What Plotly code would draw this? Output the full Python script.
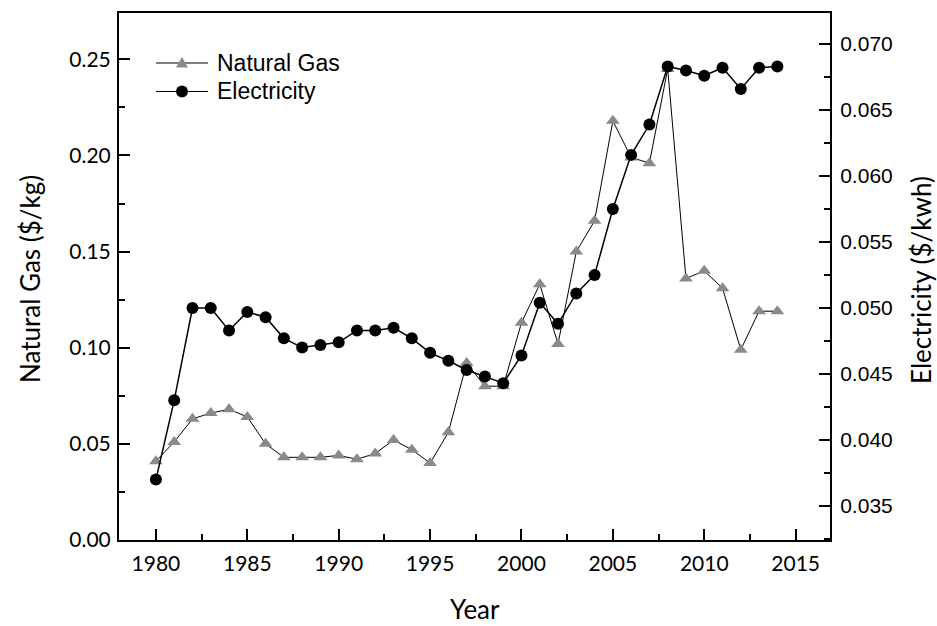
import plotly.graph_objects as go

# Annual average prices, 1980-2014
years = list(range(1980, 2015))

natural_gas = [0.041, 0.051, 0.063, 0.066, 0.068, 0.064, 0.050, 0.043, 0.043, 0.043,
               0.044, 0.042, 0.045, 0.052, 0.047, 0.040, 0.056, 0.092, 0.080, 0.080,
               0.113, 0.133, 0.102, 0.150, 0.166, 0.218, 0.199, 0.196, 0.245, 0.136,
               0.140, 0.131, 0.099, 0.119, 0.119]

electricity = [0.0370, 0.0430, 0.0500, 0.0500, 0.0483, 0.0497, 0.0493, 0.0477, 0.0470, 0.0472,
               0.0474, 0.0483, 0.0483, 0.0485, 0.0477, 0.0466, 0.0460, 0.0453, 0.0448, 0.0443,
               0.0464, 0.0504, 0.0488, 0.0511, 0.0525, 0.0575, 0.0616, 0.0639, 0.0683, 0.0680,
               0.0676, 0.0682, 0.0666, 0.0682, 0.0683]

gas_ticks = [0.00, 0.05, 0.10, 0.15, 0.20, 0.25]
elec_ticks = [0.035, 0.040, 0.045, 0.050, 0.055, 0.060, 0.065, 0.070]
year_ticks = [1980, 1985, 1990, 1995, 2000, 2005, 2010, 2015]

HUMANIST = "Lato"
ARIAL = "Liberation Sans"
GREY = "#8a8a8a"

fig = go.Figure()

fig.add_trace(go.Scatter(
    x=years, y=natural_gas, name="Natural Gas", mode="lines+markers",
    line=dict(color="black", width=1),
    marker=dict(symbol="triangle-up", size=12, color=GREY),
    yaxis="y", showlegend=False,
))
fig.add_trace(go.Scatter(
    x=years, y=electricity, name="Electricity", mode="lines+markers",
    line=dict(color="black", width=1.5),
    marker=dict(symbol="circle", size=12, color="black"),
    yaxis="y2", showlegend=False,
))

W, H = 937, 626
L, R, T, B = 119, 830, 13, 540
pw, ph = R - L, B - T


def px(xp):
    return (xp - L) / pw


def py(yp):
    return (B - yp) / ph


axis_common = dict(
    showline=True, linecolor="black", linewidth=2,
    ticks="inside", ticklen=11, tickwidth=2, tickcolor="black",
    showgrid=False, zeroline=False,
)

fig.update_layout(
    width=W, height=H,
    margin=dict(l=L, r=W - R, t=T, b=H - B, pad=0),
    plot_bgcolor="white", paper_bgcolor="white",
    xaxis=dict(
        range=[1977.98, 2016.88], tickvals=year_ticks, mirror=True,
        tickfont=dict(family=HUMANIST, size=21, color="black"),
        ticklabelstandoff=4,
        minor=dict(dtick=2.5, tick0=1977.5, ticks="inside", ticklen=6, tickwidth=2, tickcolor="black"),
        **axis_common,
    ),
    yaxis=dict(
        range=[0, 0.2741], tickvals=gas_ticks, tickformat=".2f",
        tickfont=dict(family=HUMANIST, size=21, color="black"),
        ticklabelstandoff=2,
        minor=dict(dtick=0.025, tick0=0, ticks="inside", ticklen=6, tickwidth=2, tickcolor="black"),
        **axis_common,
    ),
    yaxis2=dict(
        range=[0.03242, 0.07235], tickvals=elec_ticks, tickformat=".3f",
        overlaying="y", side="right", anchor="x",
        tickfont=dict(family=ARIAL, size=21, color="black"),
        ticklabelstandoff=4,
        minor=dict(dtick=0.0025, tick0=0, ticks="inside", ticklen=6, tickwidth=2, tickcolor="black"),
        **axis_common,
    ),
)

# Axis titles
fig.add_annotation(text="Year", xref="paper", yref="paper", x=px(475), y=py(609),
                   showarrow=False, font=dict(family=HUMANIST, size=26, color="black"),
                   xanchor="center", yanchor="middle")
fig.add_annotation(text="Natural Gas ($/kg)", xref="paper", yref="paper", x=px(30), y=py(279),
                   showarrow=False, textangle=-90,
                   font=dict(family=HUMANIST, size=26, color="black"),
                   xanchor="center", yanchor="middle")
fig.add_annotation(text="Electricity ($/kwh)", xref="paper", yref="paper", x=px(921), y=py(280),
                   showarrow=False, textangle=-90,
                   font=dict(family=HUMANIST, size=26, color="black"),
                   xanchor="center", yanchor="middle")

# Legend drawn as layout shapes and labels
legend_rows = [("Natural Gas", 63, "tri"), ("Electricity", 91.5, "dot")]
for label, yrow, kind in legend_rows:
    fig.add_shape(type="line", xref="paper", yref="paper",
                  x0=px(156), x1=px(208), y0=py(yrow), y1=py(yrow),
                  line=dict(color="black", width=1.2))
    if kind == "tri":
        fig.add_shape(type="path", xref="paper", yref="paper",
                      xsizemode="pixel", ysizemode="pixel",
                      xanchor=px(182), yanchor=py(yrow),
                      path="M -6 -4.5 L 6 -4.5 L 0 6 Z",
                      fillcolor=GREY, line=dict(width=0))
    else:
        fig.add_shape(type="circle", xref="paper", yref="paper",
                      xsizemode="pixel", ysizemode="pixel",
                      xanchor=px(182), yanchor=py(yrow),
                      x0=-6, x1=6, y0=-6, y1=6,
                      fillcolor="black", line=dict(width=0))
    fig.add_annotation(text=label, xref="paper", yref="paper", x=px(215), y=py(yrow),
                       showarrow=False, xanchor="left", yanchor="middle",
                       font=dict(family=ARIAL, size=23, color="black"))

fig.write_html("out.html")
